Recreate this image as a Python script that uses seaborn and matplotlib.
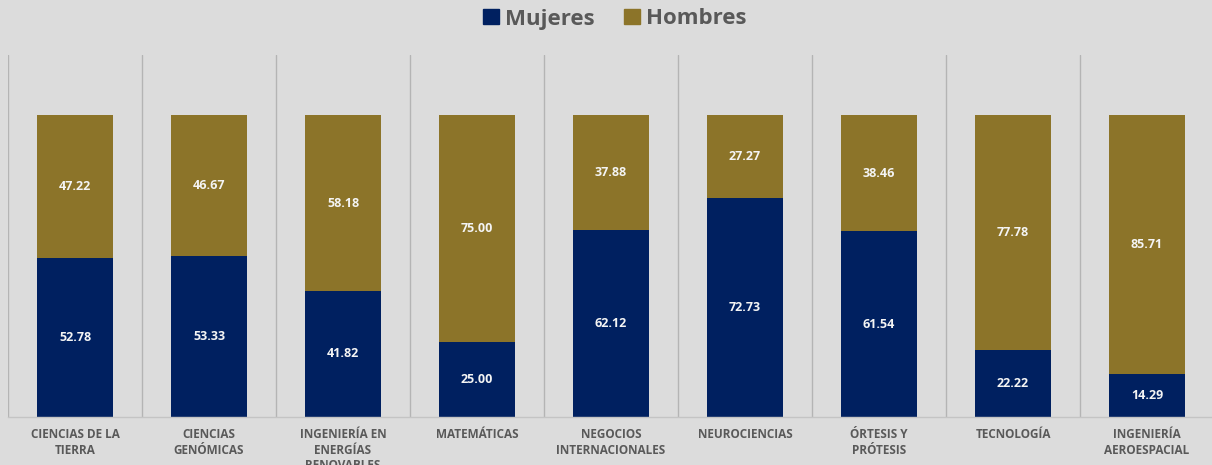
import numpy as np
import pandas as pd
import seaborn as sns
import matplotlib.pyplot as plt
from matplotlib.patches import Patch

# data (percent)
categorias = ["CIENCIAS DE LA\nTIERRA", "CIENCIAS\nGENÓMICAS", "INGENIERÍA EN\nENERGÍAS\nRENOVABLES",
              "MATEMÁTICAS", "NEGOCIOS\nINTERNACIONALES", "NEUROCIENCIAS", "ÓRTESIS Y\nPRÓTESIS",
              "TECNOLOGÍA", "INGENIERÍA\nAEROESPACIAL"]
mujeres = [52.78, 53.33, 41.82, 25.00, 62.12, 72.73, 61.54, 22.22, 14.29]
hombres = [47.22, 46.67, 58.18, 75.00, 37.88, 27.27, 38.46, 77.78, 85.71]

navy = "#002060"
gold = "#8C7429"
gris = "#595959"
fondo = "#dcdcdc"

df = pd.DataFrame({"categoria": categorias, "Mujeres": mujeres, "Hombres": hombres})
df["total"] = df["Mujeres"] + df["Hombres"]

sns.set_style("white")
plt.rcParams["font.family"] = ["Open Sans", "DejaVu Sans"]

fig = plt.figure(figsize=(12.12, 4.65), dpi=100)
fig.patch.set_facecolor(fondo)
ax = fig.add_axes([8 / 1212, 48 / 465, 1206 / 1212, 362 / 465])
ax.set_facecolor(fondo)

# stacked bars: total in gold, women drawn over it in navy
sns.barplot(data=df, x="categoria", y="total", color=gold, width=0.57, saturation=1,
            linewidth=0, edgecolor="none", ax=ax)
sns.barplot(data=df, x="categoria", y="Mujeres", color=navy, width=0.57, saturation=1,
            linewidth=0, edgecolor="none", ax=ax)

for i, (m, h) in enumerate(zip(mujeres, hombres)):
    ax.text(i, m / 2, f"{m:.2f}", ha="center", va="center", color="#f4f4f4",
            fontsize=9, fontweight="bold")
    ax.text(i, m + h / 2, f"{h:.2f}", ha="center", va="center", color="#f4f4f4",
            fontsize=9, fontweight="bold")

# category separators
for b in np.arange(-0.5, len(categorias) - 0.5, 1):
    ax.axvline(b, ymin=0, ymax=1, color="#b4b4b4", lw=1)

ax.set_xlim(-0.5, len(categorias) - 0.5)
ax.set_ylim(0, 120)
ax.set_xlabel("")
ax.set_ylabel("")
ax.set_yticks([])
ax.tick_params(axis="x", length=0, pad=8, labelsize=8.5, labelcolor=gris)
for lbl in ax.get_xticklabels():
    lbl.set_fontweight("bold")
    lbl.set_linespacing(1.25)
for s in ["top", "left", "right"]:
    ax.spines[s].set_visible(False)
ax.spines["bottom"].set_color("#c4c4c4")
ax.spines["bottom"].set_linewidth(1)

handles = [Patch(color=navy, label="Mujeres"), Patch(color=gold, label="Hombres")]
leg = fig.legend(handles=handles, loc="center", bbox_to_anchor=(615 / 1212, 1 - 19 / 465),
                 ncol=2, frameon=False, fontsize=16, handlelength=0.7, handleheight=0.7,
                 handletextpad=0.3, columnspacing=1.3)
for t in leg.get_texts():
    t.set_color(gris)
    t.set_fontweight("bold")

fig.savefig("out.png", dpi=100, facecolor=fondo)
